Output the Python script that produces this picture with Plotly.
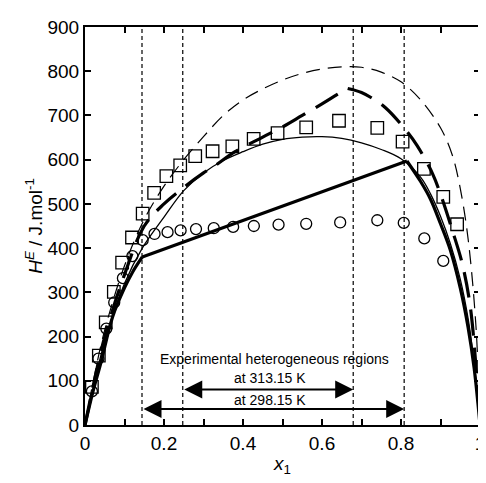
import plotly.graph_objects as go

# experimental points
x_sq = [0.0175, 0.035, 0.0525, 0.073, 0.094, 0.119, 0.146, 0.175, 0.206, 0.241, 0.279, 0.323,
        0.373, 0.427, 0.4875, 0.56, 0.643, 0.74, 0.804, 0.858, 0.907, 0.942]
y_sq = [86, 157, 232, 301, 367, 424, 478, 525, 563, 587, 608, 619,
        630, 647, 660, 673, 688, 672, 641, 579, 516, 454]

x_ci = [0.0175, 0.034, 0.054, 0.074, 0.096, 0.12, 0.146, 0.176, 0.209, 0.242, 0.281, 0.326,
        0.375, 0.4275, 0.49, 0.56, 0.646, 0.74, 0.807, 0.859, 0.907]
y_ci = [76, 150, 218, 277, 332, 382, 418, 432, 436, 440, 443, 445,
        448, 450, 453, 455, 458, 463, 457, 422, 371]

# model curves
x_tdash = [0, 0.02, 0.05, 0.1, 0.15, 0.2, 0.25, 0.3, 0.35, 0.4, 0.45, 0.5, 0.55, 0.6, 0.65,
           0.7, 0.75, 0.8, 0.85, 0.9, 0.93, 0.95, 0.97, 0.99, 1]
y_tdash = [0, 95, 215, 360, 465, 540, 600, 652, 700, 735, 760, 780, 795, 805, 810,
           809, 798, 776, 735, 672, 610, 535, 420, 220, 0]

x_kdash_a = [0, 0.02, 0.05, 0.1, 0.15, 0.2, 0.25, 0.3, 0.33, 0.38, 0.45, 0.5, 0.55, 0.6, 0.64, 0.665]
y_kdash_a = [0, 85, 200, 340, 450, 500, 537, 570, 587, 618, 651, 674, 700, 726, 748, 761]
x_kdash_b = [0.665, 0.7, 0.725, 0.76, 0.8, 0.84, 0.88, 0.9, 0.93, 0.955, 0.975, 0.99, 1]
y_kdash_b = [761, 752, 740, 718, 680, 633, 568, 522, 440, 365, 270, 130, 0]

x_thin = [0, 0.02, 0.05, 0.1, 0.145, 0.2, 0.25, 0.3, 0.35, 0.4, 0.45, 0.5, 0.55, 0.6, 0.65,
          0.7, 0.75, 0.8, 0.85, 0.875, 0.9, 0.925, 0.95, 0.97, 0.985, 1]
y_thin = [0, 80, 190, 320, 400, 470, 530, 570, 598, 618, 635, 646, 651, 652, 648,
          638, 623, 602, 560, 522, 472, 410, 330, 240, 140, 0]

x_thick_a = [0, 0.02, 0.04, 0.07, 0.1, 0.12, 0.145]
y_thick_a = [0, 75, 140, 245, 310, 345, 380]
x_thick_b = [0.145, 0.815]
y_thick_b = [380, 597]
x_thick_c = [0.815, 0.85, 0.875, 0.9, 0.925, 0.95, 0.97, 0.985, 1]
y_thick_c = [597, 550, 510, 455, 395, 310, 220, 130, 0]

# heterogeneous regions
x_313 = [0.2475, 0.679]
x_298 = [0.1443, 0.808]

fig = go.Figure()

fig.add_trace(go.Scatter(x=x_tdash, y=y_tdash, mode="lines", line_shape="spline",
                         line=dict(color="black", width=1.2, dash="14px,8px")))
fig.add_trace(go.Scatter(x=x_kdash_a, y=y_kdash_a, mode="lines", line_shape="spline",
                         line=dict(color="black", width=3.2, dash="26px,12px")))
fig.add_trace(go.Scatter(x=x_kdash_b, y=y_kdash_b, mode="lines", line_shape="spline",
                         line=dict(color="black", width=3.2, dash="26px,12px")))
fig.add_trace(go.Scatter(x=x_thin, y=y_thin, mode="lines", line_shape="spline",
                         line=dict(color="black", width=1.3)))
for xs, ys in [(x_thick_a, y_thick_a), (x_thick_b, y_thick_b), (x_thick_c, y_thick_c)]:
    fig.add_trace(go.Scatter(x=xs, y=ys, mode="lines", line_shape="spline",
                             line=dict(color="black", width=3.2)))

fig.add_trace(go.Scatter(x=x_sq, y=y_sq, mode="markers",
                         marker=dict(symbol="square-open", size=12.5, color="black", line=dict(width=1.3))))
fig.add_trace(go.Scatter(x=x_ci, y=y_ci, mode="markers",
                         marker=dict(symbol="circle-open", size=11, color="black", line=dict(width=1.3))))

# vertical dashed limits
for xv in x_313 + x_298:
    fig.add_shape(type="line", x0=xv, x1=xv, y0=0, y1=900, xref="x", yref="y",
                  line=dict(color="black", width=1.2, dash="4px,3px"))

# double arrows
for xs, yv in [(x_313, 80), (x_298, 36)]:
    fig.add_annotation(x=xs[1], y=yv, ax=xs[0], ay=yv, xref="x", yref="y", axref="x", ayref="y",
                       text="", showarrow=True, arrowhead=2, arrowside="end+start",
                       arrowsize=1.8, arrowwidth=2, arrowcolor="black")

font_txt = dict(family="Arial, Liberation Sans, sans-serif", size=14, color="black")
fig.add_annotation(x=0.48, y=149, text="Experimental heterogeneous regions", showarrow=False, font=font_txt)
fig.add_annotation(x=0.468, y=107, text="at 313.15 K", showarrow=False, font=font_txt)
fig.add_annotation(x=0.468, y=57, text="at 298.15 K", showarrow=False, font=font_txt)

x_ticks = [0, 0.1, 0.2, 0.3, 0.4, 0.5, 0.6, 0.7, 0.8, 0.9, 1]
x_ticktext = ["0", "", "0.2", "", "0.4", "", "0.6", "", "0.8", "", "1"]

# page body has an 8px margin, so the margins are shifted to compensate
fig.update_layout(
    width=486, height=483,
    margin=dict(l=77, r=9, t=13, b=66),
    plot_bgcolor="white", paper_bgcolor="white",
    showlegend=False,
    font=dict(family="Arial, Liberation Sans, sans-serif", size=19, color="black"),
)
fig.update_xaxes(range=[0, 1], tickvals=x_ticks, ticktext=x_ticktext,
                 showgrid=False, zeroline=False, showline=True, linecolor="black", linewidth=2,
                 mirror="allticks", ticks="inside", ticklen=6, tickwidth=1.5, tickcolor="black",
                 title=dict(text="<i>x</i><sub>1</sub>", standoff=4, font=dict(size=19)))
fig.update_yaxes(range=[0, 900], dtick=100,
                 showgrid=False, zeroline=False, showline=True, linecolor="black", linewidth=2,
                 mirror="allticks", ticks="inside", ticklen=6, tickwidth=1.5, tickcolor="black",
                 title=dict(text="<i>H</i><sup><i>E</i></sup> / J.mol<sup>-1</sup>", standoff=0, font=dict(size=19)))

fig.write_html("out.html")
